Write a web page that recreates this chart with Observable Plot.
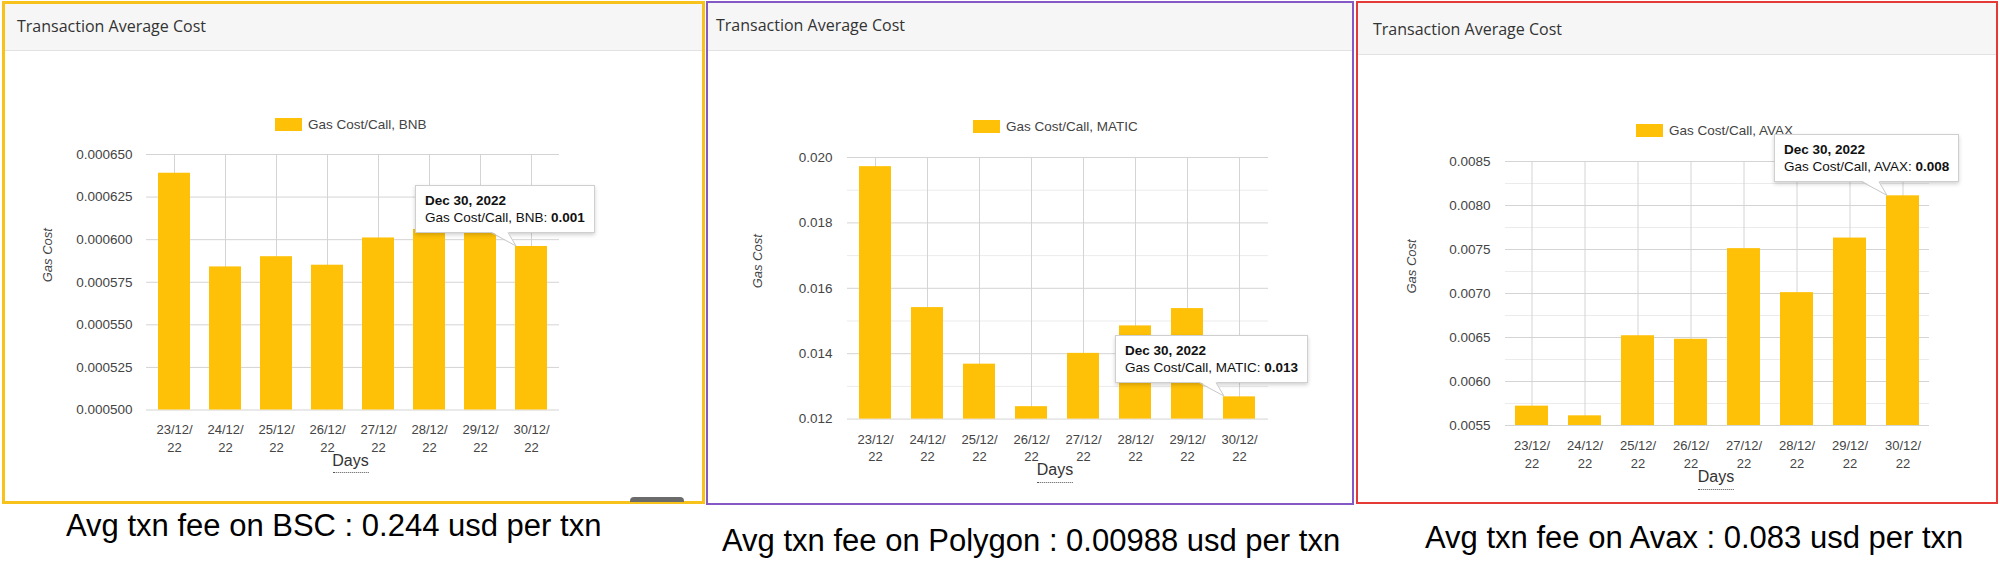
<!DOCTYPE html>
<html>
<head>
<meta charset="utf-8">
<script src="https://cdn.jsdelivr.net/npm/d3@7"></script>
<script src="https://cdn.jsdelivr.net/npm/@observablehq/plot@0.6"></script>
<style>
  body { margin: 0; background: #fff; }
  #page { position: relative; width: 2000px; height: 579px; overflow: hidden; font-family: "Liberation Sans", Arial, sans-serif; background: #fff; }
  .abs { position: absolute; }
  .panel { position: absolute; box-sizing: border-box; background: #fff; }
  .header { position: absolute; left: 0; right: 0; top: 0; box-sizing: border-box; background: #f6f6f6; border-bottom: 1px solid #e2e2e2; }
  .title { position: absolute; font-family: "Open Sans", sans-serif; font-size: 16px; line-height: 22px; color: #333; white-space: nowrap; }
  .legend { position: absolute; display: flex; align-items: center; height: 14px; white-space: nowrap; font-size: 13.5px; color: #444; }
  .legend .sw { width: 27px; height: 13px; background: #ffc107; margin-right: 6px; }
  .days { position: absolute; transform: translateX(-50%); font-size: 16px; line-height: 18px; color: #333; border-bottom: 1px dotted #555; white-space: nowrap; }
  .tip { position: absolute; box-sizing: border-box; height: 48px; padding: 6px 9px; background: #fff; border: 1px solid #cfcfcf; box-shadow: 0 2px 4px rgba(0,0,0,0.18); font-size: 13.5px; line-height: 17px; color: #111; white-space: nowrap; }
  .caption { position: absolute; font-size: 31px; line-height: 31px; color: #000; white-space: nowrap; }
  svg.chart { position: absolute; }
</style>
</head>
<body>
<div id="page"></div>
<script>
// ---------- data ----------
const days = ["23/12/22", "24/12/22", "25/12/22", "26/12/22", "27/12/22", "28/12/22", "29/12/22", "30/12/22"];
const dayLabels = ["23/12/\n22", "24/12/\n22", "25/12/\n22", "26/12/\n22", "27/12/\n22", "28/12/\n22", "29/12/\n22", "30/12/\n22"];

const bscCost = [0.000639, 0.000584, 0.000590, 0.000585, 0.000601, 0.000606, 0.000604, 0.000596];
const polygonCost = [0.01972, 0.01541, 0.01368, 0.01238, 0.01401, 0.01485, 0.01538, 0.01268];
const avaxCost = [0.00572, 0.00561, 0.00652, 0.00648, 0.00751, 0.00701, 0.00763, 0.00811];

const bscTicks = [0.0005, 0.000525, 0.00055, 0.000575, 0.0006, 0.000625, 0.00065];
const bscTickLabels = ["0.000500", "0.000525", "0.000550", "0.000575", "0.000600", "0.000625", "0.000650"];
const bscMinor = [];

const polygonTicks = [0.012, 0.014, 0.016, 0.018, 0.020];
const polygonTickLabels = ["0.012", "0.014", "0.016", "0.018", "0.020"];
const polygonMinor = [0.013, 0.015, 0.017, 0.019];

const avaxTicks = [0.0055, 0.006, 0.0065, 0.007, 0.0075, 0.008, 0.0085];
const avaxTickLabels = ["0.0055", "0.0060", "0.0065", "0.0070", "0.0075", "0.0080", "0.0085"];
const avaxMinor = [0.00575, 0.00625, 0.00675, 0.00725, 0.00775, 0.00825];

const seriesNames = ["Gas Cost/Call, BNB", "Gas Cost/Call, MATIC", "Gas Cost/Call, AVAX"];
const tooltipDate = "Dec 30, 2022";
const tooltipValues = ["0.001", "0.013", "0.008"];
const captions = [
  "Avg txn fee on BSC : 0.244 usd per txn",
  "Avg txn fee on Polygon : 0.00988 usd per txn",
  "Avg txn fee on Avax : 0.083 usd per txn"
];
const panelTitle = "Transaction Average Cost";
const xLabel = "Days";
const yLabel = "Gas Cost";

// ---------- layout ----------
const page = document.getElementById("page");
function el(tag, cls, parent) { const e = document.createElement(tag); if (cls) e.className = cls; (parent || page).appendChild(e); return e; }

const panels = [
  { values: bscCost, ticks: bscTicks, tickLabels: bscTickLabels, minor: bscMinor, yDomain: [0.0005, 0.00065],
    box: [2, 1, 703, 503], bw: 3, bc: "#f8c21d", headerBottom: 51, title: [17, 26],
    frame: { l: 146, r: 559, t: 154, b: 409.5 }, tickPadding: 14, ylabelDx: -99,
    legend: [275, 124.5], days: [350.5, 461], tipDx: 101, caption: [66, 536] },
  { values: polygonCost, ticks: polygonTicks, tickLabels: polygonTickLabels, minor: polygonMinor, yDomain: [0.012, 0.020],
    box: [706, 1, 648, 504], bw: 2, bc: "#8459c6", headerBottom: 51, title: [716, 25],
    frame: { l: 847, r: 1268, t: 156.7, b: 418.3 }, tickPadding: 15, ylabelDx: -90,
    legend: [973, 126.5], days: [1055, 470], tipDx: 109, caption: [722, 551] },
  { values: avaxCost, ticks: avaxTicks, tickLabels: avaxTickLabels, minor: avaxMinor, yDomain: [0.0055, 0.0085],
    box: [1356, 1, 642, 503], bw: 2, bc: "#e53935", headerBottom: 55, title: [1373, 29],
    frame: { l: 1505, r: 1929, t: 161, b: 425 }, tickPadding: 15, ylabelDx: -94,
    legend: [1636, 130], days: [1716, 477], tipDx: 113, caption: [1425, 548] }
];

const tails = [];

panels.forEach((c, k) => {
  // panel box + header
  const p = el("div", "panel");
  Object.assign(p.style, { left: c.box[0] + "px", top: c.box[1] + "px", width: c.box[2] + "px", height: c.box[3] + "px", border: `${c.bw}px solid ${c.bc}` });
  const h = el("div", "header", p);
  h.style.height = (c.headerBottom - c.box[1] - c.bw) + "px";

  const t = el("div", "title");
  t.textContent = panelTitle;
  t.style.left = c.title[0] + "px";
  t.style.top = (c.title[1] - 11) + "px";

  // legend
  const lg = el("div", "legend");
  lg.style.left = c.legend[0] + "px";
  lg.style.top = (c.legend[1] - 7) + "px";
  el("div", "sw", lg);
  const lt = el("span", null, lg); lt.textContent = seriesNames[k];

  // chart
  const f = c.frame;
  const mL = 140, mR = 10, mT = 10, mB = 45;
  const W = f.r - f.l + mL + mR, H = f.b - f.t + mT + mB;
  const svgLeft = f.l - mL, svgTop = f.t - mT;
  const rows = days.map((d, i) => ({ day: d, label: dayLabels[i], value: c.values[i], base: c.yDomain[0] }));
  const marks = [];
  if (c.minor.length) marks.push(Plot.gridY(c.minor, { stroke: "#ebebeb", strokeOpacity: 1 }));
  marks.push(
    Plot.gridY(c.ticks, { stroke: "#d4d4d4", strokeOpacity: 1 }),
    Plot.gridX(days, { stroke: "#d4d4d4", strokeOpacity: 1 }),
    Plot.barY(rows, { x: "day", y1: "base", y2: "value", fill: "#ffc107" }),
    Plot.axisY(c.ticks, { tickSize: 0, tickPadding: c.tickPadding, tickFormat: d => c.tickLabels[c.ticks.indexOf(d)], label: null, fill: "#444" }),
    Plot.text(rows, { x: "day", text: "label", frameAnchor: "bottom", lineAnchor: "top", dy: 12, lineHeight: 1.35, fontSize: 13, fill: "#444" }),
    Plot.text([yLabel], { frameAnchor: "left", text: d => d, rotate: -90, dx: c.ylabelDx, fontSize: 13, fontStyle: "italic", fill: "#444" })
  );
  const chart = Plot.plot({
    width: W, height: H, marginLeft: mL, marginRight: mR, marginTop: mT, marginBottom: mB,
    style: { background: "transparent", fontFamily: "'Liberation Sans', Arial, sans-serif", fontSize: "13.5px", color: "#444", overflow: "visible" },
    x: { type: "band", domain: days, paddingInner: 0.38, paddingOuter: 0.19, axis: null },
    y: { domain: c.yDomain, axis: null },
    marks
  });
  chart.classList.add("chart");
  chart.style.left = svgLeft + "px";
  chart.style.top = svgTop + "px";
  page.appendChild(chart);

  // x label
  const dl = el("div", "days");
  dl.textContent = xLabel;
  dl.style.left = c.days[0] + "px";
  dl.style.top = (c.days[1] - 9) + "px";
  dl.style.paddingBottom = (k === 0 ? 2 : 3) + "px";

  // tooltip anchored on the last bar via the chart's scales
  const xs = chart.scale("x"), ys = chart.scale("y");
  const last = days.length - 1;
  const tipX = svgLeft + xs.apply(days[last]) + 1;
  const tipY = svgTop + ys.apply(c.values[last]);
  const boxBottom = tipY - 13;
  const tb = el("div", "tip");
  tb.style.left = (tipX - c.tipDx) + "px";
  tb.style.top = (boxBottom - 48) + "px";
  tb.innerHTML = `<b>${tooltipDate}</b><br>${seriesNames[k]}: <b>${tooltipValues[k]}</b>`;
  tails.push({ tipX, tipY, boxBottom });

  // caption
  const cp = el("div", "caption");
  cp.textContent = captions[k];
  cp.style.left = c.caption[0] + "px";
  cp.style.top = (c.caption[1] - 26) + "px";
});

// tooltip tails
const ns = "http://www.w3.org/2000/svg";
const ov = document.createElementNS(ns, "svg");
ov.setAttribute("width", 2000); ov.setAttribute("height", 579);
ov.style.position = "absolute"; ov.style.left = "0"; ov.style.top = "0"; ov.style.pointerEvents = "none";
tails.forEach(({ tipX, tipY, boxBottom }) => {
  const a = tipX - 25, b = tipX - 8, yb = boxBottom - 1.5;
  const pg = document.createElementNS(ns, "polygon");
  pg.setAttribute("points", `${a},${yb} ${b},${yb} ${tipX},${tipY}`);
  pg.setAttribute("fill", "#fff");
  ov.appendChild(pg);
  const pl = document.createElementNS(ns, "polyline");
  pl.setAttribute("points", `${a},${boxBottom - 0.5} ${tipX},${tipY} ${b},${boxBottom - 0.5}`);
  pl.setAttribute("fill", "none");
  pl.setAttribute("stroke", "#c8c8c8");
  pl.setAttribute("stroke-width", "1");
  ov.appendChild(pl);
});
page.appendChild(ov);

// small gray tab peeking at the bottom-right of the first panel
const tab = el("div", "abs");
Object.assign(tab.style, { left: "630px", top: "497px", width: "54px", height: "5px", background: "#6b6b6b", borderRadius: "4px 4px 0 0" });
</script>
</body>
</html>
